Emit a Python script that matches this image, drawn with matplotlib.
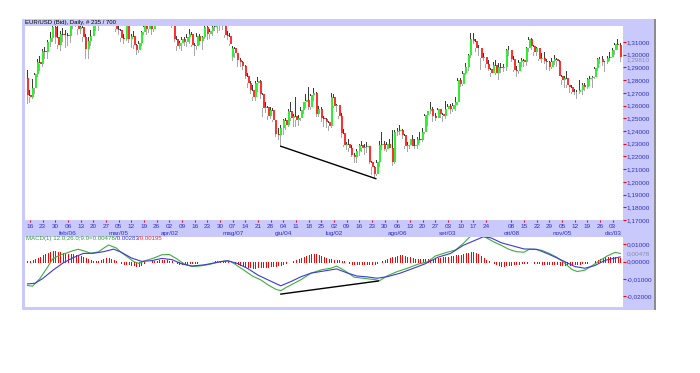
import numpy as np
import pandas as pd
import matplotlib
matplotlib.use('Agg')
import matplotlib.pyplot as plt
from matplotlib.patches import Rectangle
import matplotlib.transforms as mtransforms

plt.rcParams['font.family'] = ['Liberation Sans', 'DejaVu Sans']

# EUR/USD daily bars (Bid), first bar 13/01/2012
first_day = '2012-01-13'
opens = [1.2818,
    1.2680, 1.2665, 1.2740, 1.2845, 1.2940, 1.2930, 1.3030, 1.3020, 1.3100, 1.3135,
    1.3215, 1.3140, 1.3080, 1.3160, 1.3155, 1.3155, 1.3145, 1.3245, 1.3270, 1.3280,
    1.3200, 1.3220, 1.3140, 1.3045, 1.3110, 1.3150, 1.3230, 1.3240, 1.3245, 1.3375,
    1.3450, 1.3425, 1.3465, 1.3330, 1.3340, 1.3205, 1.3195, 1.3135, 1.3125, 1.3270,
    1.3120, 1.3145, 1.3075, 1.3035, 1.3090, 1.3175, 1.3225, 1.3200, 1.3245, 1.3205,
    1.3275, 1.3355, 1.3350, 1.3320, 1.3305, 1.3345, 1.3345, 1.3235, 1.3120, 1.3065,
    1.3090, 1.3125, 1.3100, 1.3140, 1.3165, 1.3075, 1.3070, 1.3150, 1.3105, 1.3140,
    1.3220, 1.3160, 1.3185, 1.3220, 1.3225, 1.3235, 1.3235, 1.3230, 1.3155, 1.3150,
    1.2980, 1.3050, 1.3010, 1.2955, 1.2945, 1.2915, 1.2830, 1.2780, 1.2720, 1.2665,
    1.2780, 1.2790, 1.2690, 1.2580, 1.2590, 1.2515, 1.2565, 1.2485, 1.2375, 1.2370,
    1.2420, 1.2490, 1.2450, 1.2560, 1.2500, 1.2515, 1.2485, 1.2505, 1.2565, 1.2625,
    1.2640, 1.2585, 1.2680, 1.2700, 1.2535, 1.2570, 1.2500, 1.2495, 1.2470, 1.2440,
    1.2665, 1.2595, 1.2605, 1.2520, 1.2385, 1.2290, 1.2295, 1.2265, 1.2215, 1.2195,
    1.2245, 1.2290, 1.2270, 1.2275, 1.2280, 1.2160, 1.2115, 1.2065, 1.2160, 1.2290,
    1.2300, 1.2260, 1.2300, 1.2270, 1.2160, 1.2390, 1.2400, 1.2410, 1.2365, 1.2285,
    1.2290, 1.2335, 1.2285, 1.2290, 1.2335, 1.2330, 1.2395, 1.2525, 1.2555, 1.2570,
    1.2515, 1.2505, 1.2570, 1.2530, 1.2515, 1.2575, 1.2600, 1.2575, 1.2605, 1.2630,
    1.2805, 1.2770, 1.2860, 1.2905, 1.2995, 1.3125, 1.3110, 1.3050, 1.3050, 1.2975,
    1.2980, 1.2925, 1.2890, 1.2860, 1.2920, 1.2860, 1.2905, 1.2895, 1.2900, 1.3035,
    1.3035, 1.2970, 1.2880, 1.2870, 1.2945, 1.2955, 1.2945, 1.3050, 1.3120, 1.3065,
    1.3020, 1.3050, 1.2965, 1.2975, 1.2950, 1.2940, 1.2900, 1.2950, 1.2970, 1.2950,
    1.2835, 1.2800, 1.2815, 1.2760, 1.2745, 1.2710, 1.2710, 1.2710, 1.2725, 1.2760,
    1.2745, 1.2810, 1.2820, 1.2825, 1.2895, 1.2970, 1.2970, 1.2945, 1.2945, 1.2975,
    1.2985, 1.3040, 1.3085, 1.3075]
highs = [1.2879,
    1.2720, 1.2810, 1.2860, 1.2970, 1.2990, 1.3045, 1.3060, 1.3115, 1.3180, 1.3235,
    1.3225, 1.3235, 1.3190, 1.3210, 1.3195, 1.3170, 1.3260, 1.3290, 1.3320, 1.3285,
    1.3275, 1.3235, 1.3165, 1.3140, 1.3195, 1.3290, 1.3295, 1.3275, 1.3385, 1.3485,
    1.3470, 1.3485, 1.3485, 1.3350, 1.3345, 1.3250, 1.3200, 1.3160, 1.3285, 1.3290,
    1.3160, 1.3185, 1.3085, 1.3110, 1.3185, 1.3245, 1.3235, 1.3265, 1.3260, 1.3295,
    1.3365, 1.3385, 1.3360, 1.3345, 1.3385, 1.3365, 1.3385, 1.3245, 1.3150, 1.3110,
    1.3140, 1.3140, 1.3160, 1.3200, 1.3175, 1.3090, 1.3170, 1.3160, 1.3150, 1.3230,
    1.3225, 1.3200, 1.3230, 1.3255, 1.3265, 1.3255, 1.3265, 1.3240, 1.3185, 1.3170,
    1.3070, 1.3060, 1.3015, 1.2975, 1.2950, 1.2920, 1.2860, 1.2795, 1.2760, 1.2790,
    1.2825, 1.2805, 1.2700, 1.2625, 1.2600, 1.2590, 1.2580, 1.2490, 1.2420, 1.2445,
    1.2495, 1.2505, 1.2570, 1.2625, 1.2530, 1.2670, 1.2525, 1.2590, 1.2630, 1.2690,
    1.2745, 1.2690, 1.2740, 1.2705, 1.2595, 1.2585, 1.2515, 1.2505, 1.2475, 1.2695,
    1.2690, 1.2610, 1.2605, 1.2540, 1.2415, 1.2315, 1.2340, 1.2290, 1.2230, 1.2260,
    1.2295, 1.2325, 1.2295, 1.2310, 1.2285, 1.2165, 1.2125, 1.2175, 1.2325, 1.2390,
    1.2325, 1.2315, 1.2335, 1.2405, 1.2405, 1.2420, 1.2445, 1.2415, 1.2375, 1.2315,
    1.2340, 1.2370, 1.2340, 1.2350, 1.2390, 1.2420, 1.2535, 1.2560, 1.2625, 1.2590,
    1.2545, 1.2580, 1.2575, 1.2545, 1.2635, 1.2615, 1.2610, 1.2620, 1.2665, 1.2815,
    1.2815, 1.2875, 1.2935, 1.3005, 1.3170, 1.3170, 1.3120, 1.3075, 1.3055, 1.3015,
    1.2985, 1.2955, 1.2895, 1.2945, 1.2960, 1.2935, 1.2935, 1.2925, 1.3045, 1.3070,
    1.3035, 1.2990, 1.2915, 1.2955, 1.2975, 1.2965, 1.3060, 1.3140, 1.3135, 1.3075,
    1.3060, 1.3055, 1.3015, 1.3020, 1.2970, 1.2950, 1.2975, 1.3000, 1.2975, 1.2960,
    1.2840, 1.2830, 1.2875, 1.2765, 1.2760, 1.2730, 1.2725, 1.2800, 1.2780, 1.2780,
    1.2815, 1.2835, 1.2835, 1.2905, 1.2975, 1.2985, 1.2990, 1.2950, 1.2990, 1.3020,
    1.3050, 1.3095, 1.3125, 1.3090]
lows = [1.2624,
    1.2630, 1.2660, 1.2700, 1.2830, 1.2880, 1.2915, 1.2975, 1.2975, 1.3065, 1.3110,
    1.3090, 1.3050, 1.3040, 1.3110, 1.3060, 1.3080, 1.3100, 1.3210, 1.3225, 1.3160,
    1.3170, 1.3110, 1.2975, 1.2975, 1.3080, 1.3150, 1.3195, 1.3195, 1.3230, 1.3365,
    1.3320, 1.3395, 1.3320, 1.3260, 1.3190, 1.3165, 1.3105, 1.3090, 1.3115, 1.3100,
    1.3060, 1.3050, 1.3005, 1.3025, 1.3080, 1.3165, 1.3165, 1.3180, 1.3160, 1.3185,
    1.3265, 1.3335, 1.3285, 1.3265, 1.3300, 1.3300, 1.3220, 1.3110, 1.3035, 1.3050,
    1.3035, 1.3080, 1.3070, 1.3095, 1.3065, 1.2995, 1.3045, 1.3085, 1.3045, 1.3135,
    1.3120, 1.3130, 1.3155, 1.3195, 1.3175, 1.3195, 1.3200, 1.3140, 1.3125, 1.3075,
    1.2955, 1.2980, 1.2910, 1.2915, 1.2890, 1.2820, 1.2750, 1.2700, 1.2640, 1.2645,
    1.2715, 1.2660, 1.2515, 1.2550, 1.2495, 1.2505, 1.2475, 1.2360, 1.2335, 1.2285,
    1.2380, 1.2415, 1.2440, 1.2490, 1.2440, 1.2440, 1.2445, 1.2490, 1.2545, 1.2590,
    1.2570, 1.2570, 1.2645, 1.2520, 1.2515, 1.2480, 1.2440, 1.2435, 1.2405, 1.2430,
    1.2590, 1.2555, 1.2500, 1.2355, 1.2285, 1.2255, 1.2240, 1.2205, 1.2160, 1.2160,
    1.2210, 1.2245, 1.2220, 1.2235, 1.2145, 1.2065, 1.2040, 1.2055, 1.2125, 1.2255,
    1.2250, 1.2240, 1.2265, 1.2135, 1.2150, 1.2365, 1.2375, 1.2345, 1.2265, 1.2240,
    1.2265, 1.2280, 1.2270, 1.2265, 1.2310, 1.2320, 1.2385, 1.2445, 1.2540, 1.2480,
    1.2490, 1.2500, 1.2510, 1.2480, 1.2500, 1.2570, 1.2545, 1.2555, 1.2565, 1.2615,
    1.2755, 1.2765, 1.2850, 1.2880, 1.2985, 1.3095, 1.3030, 1.2995, 1.2885, 1.2955,
    1.2900, 1.2880, 1.2835, 1.2855, 1.2850, 1.2810, 1.2865, 1.2870, 1.2880, 1.3000,
    1.2950, 1.2875, 1.2835, 1.2860, 1.2915, 1.2910, 1.2920, 1.3030, 1.3045, 1.3000,
    1.2995, 1.2955, 1.2945, 1.2935, 1.2885, 1.2880, 1.2895, 1.2930, 1.2915, 1.2830,
    1.2770, 1.2745, 1.2745, 1.2710, 1.2700, 1.2690, 1.2660, 1.2700, 1.2690, 1.2725,
    1.2740, 1.2765, 1.2750, 1.2820, 1.2880, 1.2935, 1.2920, 1.2875, 1.2935, 1.2955,
    1.2980, 1.3005, 1.3045, 1.2950]
closes = [1.2680,
    1.2665, 1.2740, 1.2845, 1.2940, 1.2930, 1.3030, 1.3020, 1.3100, 1.3135, 1.3215,
    1.3140, 1.3080, 1.3160, 1.3155, 1.3155, 1.3145, 1.3245, 1.3270, 1.3280, 1.3200,
    1.3220, 1.3140, 1.3045, 1.3110, 1.3150, 1.3230, 1.3240, 1.3245, 1.3375, 1.3450,
    1.3425, 1.3465, 1.3330, 1.3340, 1.3205, 1.3195, 1.3135, 1.3125, 1.3270, 1.3120,
    1.3145, 1.3075, 1.3035, 1.3090, 1.3175, 1.3225, 1.3200, 1.3245, 1.3205, 1.3275,
    1.3355, 1.3350, 1.3320, 1.3305, 1.3345, 1.3345, 1.3235, 1.3120, 1.3065, 1.3090,
    1.3125, 1.3100, 1.3140, 1.3165, 1.3075, 1.3070, 1.3150, 1.3105, 1.3140, 1.3220,
    1.3160, 1.3185, 1.3220, 1.3225, 1.3235, 1.3235, 1.3230, 1.3155, 1.3150, 1.3085,
    1.3050, 1.3010, 1.2955, 1.2945, 1.2915, 1.2830, 1.2780, 1.2720, 1.2665, 1.2780,
    1.2790, 1.2690, 1.2580, 1.2590, 1.2515, 1.2565, 1.2485, 1.2375, 1.2370, 1.2420,
    1.2490, 1.2450, 1.2560, 1.2500, 1.2515, 1.2485, 1.2505, 1.2565, 1.2625, 1.2640,
    1.2585, 1.2680, 1.2700, 1.2535, 1.2570, 1.2500, 1.2495, 1.2470, 1.2440, 1.2665,
    1.2595, 1.2605, 1.2520, 1.2385, 1.2290, 1.2295, 1.2265, 1.2215, 1.2195, 1.2245,
    1.2290, 1.2270, 1.2275, 1.2280, 1.2160, 1.2115, 1.2065, 1.2160, 1.2290, 1.2300,
    1.2260, 1.2300, 1.2270, 1.2160, 1.2390, 1.2400, 1.2410, 1.2365, 1.2285, 1.2290,
    1.2335, 1.2285, 1.2290, 1.2335, 1.2330, 1.2395, 1.2525, 1.2555, 1.2570, 1.2515,
    1.2505, 1.2570, 1.2530, 1.2515, 1.2575, 1.2600, 1.2575, 1.2605, 1.2630, 1.2805,
    1.2770, 1.2860, 1.2905, 1.2995, 1.3125, 1.3110, 1.3050, 1.3050, 1.2975, 1.2980,
    1.2925, 1.2890, 1.2860, 1.2920, 1.2860, 1.2905, 1.2895, 1.2900, 1.3035, 1.3035,
    1.2970, 1.2880, 1.2870, 1.2945, 1.2955, 1.2945, 1.3050, 1.3120, 1.3065, 1.3020,
    1.3050, 1.2965, 1.2975, 1.2950, 1.2940, 1.2900, 1.2950, 1.2970, 1.2950, 1.2835,
    1.2800, 1.2815, 1.2760, 1.2745, 1.2710, 1.2710, 1.2710, 1.2725, 1.2760, 1.2745,
    1.2810, 1.2820, 1.2825, 1.2895, 1.2970, 1.2970, 1.2945, 1.2945, 1.2975, 1.2985,
    1.3040, 1.3085, 1.3075, 1.2981]

# MACD(12,26,9)
macd_bar = [0, 2, 5, 8, 10, 13, 15, 18, 20, 22, 25, 28, 30, 32, 35, 37, 40, 42, 44, 47,
            50, 53, 56, 59, 62, 65, 68, 72, 76, 78, 80, 82, 86, 89, 92, 95, 98, 100, 102, 104,
            108, 112, 116, 120, 122, 125, 129, 133, 137, 139, 142, 146, 150, 154, 158, 161, 165, 169, 172, 175,
            178, 181, 184, 187, 190, 193, 196, 198, 200, 203, 206, 209, 212, 215, 217, 220, 223, 226, 229, 232, 234]
macd_val = [-0.0138, -0.0142, -0.0096, -0.0030, 0.0017, 0.0040, 0.0048, 0.0064, 0.0072, 0.0064,
            0.0049, 0.0057, 0.0078, 0.0097, 0.0080, 0.0054, 0.0022, 0.0000, -0.0010, 0.0008,
            0.0022, 0.0040, 0.0042, 0.0016, -0.0015, -0.0028, -0.0025, -0.0015, 0.0000, 0.0004,
            0.0002, -0.0015, -0.0055, -0.0085, -0.0105, -0.0135, -0.0160, -0.0168, -0.0150, -0.0135,
            -0.0104, -0.0066, -0.0047, -0.0037, -0.0025, -0.0050, -0.0090, -0.0097, -0.0104, -0.0110,
            -0.0082, -0.0057, -0.0038, -0.0015, 0.0000, 0.0033, 0.0052, 0.0068, 0.0106, 0.0150,
            0.0160, 0.0140, 0.0115, 0.0095, 0.0072, 0.0058, 0.0055, 0.0072, 0.0072, 0.0066,
            0.0048, 0.0025, -0.0008, -0.0046, -0.0057, -0.0049, -0.0022, 0.0007, 0.0035, 0.0054, 0.0048]
signal_bar = [0, 3, 6, 10, 14, 18, 22, 26, 30, 34, 37, 41, 45, 49, 53, 57, 61, 65, 70, 75,
              79, 83, 87, 91, 95, 100, 104, 108, 112, 117, 122, 126, 130, 134, 138, 142, 147, 152, 157, 162,
              167, 172, 176, 180, 183, 187, 191, 196, 201, 206, 211, 216, 220, 224, 228, 234]
signal_val = [-0.0129, -0.0125, -0.0098, -0.0050, -0.0008, 0.0023, 0.0048, 0.0049, 0.0058, 0.0073,
              0.0055, 0.0022, 0.0002, 0.0006, 0.0019, 0.0012, -0.0013, -0.0025, -0.0018, -0.0003,
              0.0006, -0.0011, -0.0040, -0.0078, -0.0106, -0.0140, -0.0115, -0.0087, -0.0066, -0.0054,
              -0.0042, -0.0064, -0.0083, -0.0088, -0.0096, -0.0087, -0.0067, -0.0040, -0.0012, 0.0026,
              0.0048, 0.0095, 0.0120, 0.0145, 0.0138, 0.0110, 0.0094, 0.0074, 0.0072, 0.0042,
              0.0008, -0.0028, -0.0038, -0.0022, 0.0008, 0.0028]
# histogram, one value per bar, in units of 0.0001
hist_e4 = [2, 4, 8, 14, 20, 28, 36, 44, 50, 56,
           60, 60, 58, 55, 52, 48, 46, 44, 42, 40,
           36, 32, 26, 20, 14, 10, 6, 4, 4, 8,
           14, 20, 22, 18, 12, 6, -2, -8, -12, -14,
           -16, -18, -22, -26, -24, -18, -10, -4, 0, 2,
           4, 6, 8, 10, 10, 8, 6, 2, -4, -8,
           -12, -14, -14, -12, -10, -8, -6, -5, -4, -3,
           -3, -2, -2, 0, 2, 3, 4, 4, 3, 2,
           0, -4, -8, -14, -18, -22, -26, -30, -32, -34,
           -34, -32, -30, -30, -28, -28, -26, -26, -24, -22,
           -20, -16, -10, -4, 0, 4, 8, 14, 20, 26,
           32, 38, 42, 45, 44, 40, 34, 26, 20, 16,
           14, 12, 12, 10, 6, 2, -4, -10, -14, -16,
           -16, -14, -12, -12, -14, -16, -16, -14, -10, -4,
           2, 8, 14, 20, 26, 30, 34, 36, 36, 34,
           30, 26, 22, 18, 16, 14, 14, 14, 14, 16,
           18, 20, 22, 24, 26, 28, 30, 32, 34, 36,
           38, 40, 44, 48, 52, 54, 54, 50, 42, 32,
           22, 12, 4, -4, -10, -16, -20, -24, -24, -22,
           -20, -18, -16, -14, -12, -10, -8, -6, -4, -4,
           -6, -8, -10, -12, -14, -14, -14, -14, -15, -16,
           -18, -20, -22, -22, -20, -18, -16, -14, -12, -10,
           -8, -6, -4, 0, 6, 12, 18, 22, 26, 28,
           28, 28, 26, 24, 20]

# divergence lines drawn on the chart
price_trend_bar = [100, 137.5]
price_trend_val = [1.2280, 1.2025]
macd_trend_bar = [100, 138.5]
macd_trend_val = [-0.0188, -0.0112]

price_ticks = [1.17, 1.18, 1.19, 1.20, 1.21, 1.22, 1.23, 1.24, 1.25, 1.26, 1.27, 1.28, 1.29, 1.30, 1.31]
macd_ticks = [0.01, 0.0, -0.01, -0.02]
last_price = 1.29810
last_macd = 0.00478
skipped_dates = ['2012-10-01']
mesi = ['gen', 'feb', 'mar', 'apr', 'mag', 'giu', 'lug', 'ago', 'set', 'ott', 'nov', 'dic']

title = 'EUR/USD (Bid), Daily, # 235 / 700'
macd_txt = ['MACD(1) 12.0;26.0;9.0=0.00478', '/0.00283', '/0.00195']

# --------------------------------------------------------------------------
W, H = 700, 373
LAV = '#c9c9fb'
BLU = '#3030c8'

def fx(px):
    return px / W

def fy(py):
    return 1 - py / H

def comma(v):
    return f'{v:.5f}'.replace('.', ',')

fig = plt.figure(figsize=(7, 3.73), dpi=100)
fig.patch.set_facecolor('white')
fig.patches.append(Rectangle((fx(22.5), fy(310)), fx(654) - fx(22.5), fy(19) - fy(310),
                             transform=fig.transFigure, fc=LAV, ec='none', zorder=-10))
fig.patches.append(Rectangle((fx(653.5), fy(310)), 2.0 / W, fy(19) - fy(310),
                             transform=fig.transFigure, fc='#8c8c8c', ec='none', zorder=-10))

ax = fig.add_axes([fx(24.5), fy(220), fx(623) - fx(24.5), fy(26) - fy(220)])
axm = fig.add_axes([fx(24.5), fy(307), fx(623) - fx(24.5), fy(237) - fy(307)])

idx = np.arange(len(closes))
o, h, l, c = map(np.array, (opens, highs, lows, closes))
up = c >= o
top = np.maximum(o, c)
bot = np.minimum(o, c)

ax.vlines(idx - 0.3, top, h, color='#3c3c3c', lw=0.72, antialiased=False)
ax.vlines(idx - 0.3, l, bot, color='#a8a8a8', lw=0.72, antialiased=False)
ax.vlines(idx + 0.25, bot, top, color=np.where(up, '#1aee1a', '#ff1a1a'), lw=1.3)
ax.plot(price_trend_bar, price_trend_val, color='black', lw=1.0)

for a in (ax, axm):
    a.set_xlim(-1.17, 235.06)
    for s in a.spines.values():
        s.set_visible(False)
    a.yaxis.tick_right()
    a.tick_params(axis='y', direction='out', length=2.2, width=0.8, color='red',
                  pad=0.6, labelsize=4.6, labelcolor=BLU)

ax.set_ylim(1.17, 1.17 + 194 / 1271.4)
ax.set_yticks(price_ticks)
ax.set_yticklabels([comma(v) for v in price_ticks])
ax.text(1.0 + 3.6 / 598.5, last_price, comma(last_price), color='#8a8ab4', fontsize=4.6,
        va='top', ha='left', transform=mtransforms.blended_transform_factory(ax.transAxes, ax.transData))

# date axis (Mondays)
dates = pd.bdate_range(first_day, periods=len(closes))
mondays = [i for i, d in enumerate(dates)
           if d.dayofweek == 0 and d.strftime('%Y-%m-%d') not in skipped_dates]
ax.set_xticks(mondays)
ax.set_xticklabels([f'{dates[i].day:02d}' for i in mondays])
ax.tick_params(axis='x', direction='out', length=1.5, width=0.8, color='red',
               pad=1.2, labelsize=4.6, labelcolor=BLU)
seen = set()
xt = mtransforms.blended_transform_factory(ax.transData, ax.transAxes)
for i in mondays:
    if dates[i].month in seen or dates[i].month == 1:
        seen.add(dates[i].month)
        continue
    seen.add(dates[i].month)
    ax.text(i, -13.3 / 194, f'{mesi[dates[i].month - 1]}/{dates[i].day:02d}', transform=xt,
            ha='center', va='center', fontsize=4.6, color=BLU)

fig.text(fx(25), fy(22.6), title, fontsize=4.3, color='black', va='center', ha='left')

# MACD panel
axm.vlines(idx, 0, np.array(hist_e4) * 1e-4, color='#ff0000', lw=0.72, antialiased=False)
axm.plot(macd_bar, macd_val, color='#3fae3f', lw=0.8)
axm.plot(signal_bar, signal_val, color='#3a3ae0', lw=0.8)
axm.plot(macd_trend_bar, macd_trend_val, color='black', lw=1.0)
axm.set_ylim(-(307 - 261.7) / 1723, (261.7 - 237) / 1723)
axm.set_yticks(macd_ticks)
axm.set_yticklabels([comma(v) for v in macd_ticks])
axm.set_xticks([])
axm.text(1.0 + 3.6 / 598.5, last_macd, comma(last_macd), color='#8a8ab4', fontsize=4.6,
         va='center', ha='left', transform=mtransforms.blended_transform_factory(axm.transAxes, axm.transData))

t1 = axm.text(0.002, 0.975, macd_txt[0], transform=axm.transAxes, fontsize=4.4,
              color='#2fa02f', va='center', ha='left')
t2 = axm.annotate(macd_txt[1], xy=(1, 0.5), xycoords=t1, fontsize=4.4,
                  color='#3030d8', va='center', ha='left')
axm.annotate(macd_txt[2], xy=(1, 0.5), xycoords=t2, fontsize=4.4,
             color='#ff2020', va='center', ha='left')

fig.savefig('out.png', dpi=100)
